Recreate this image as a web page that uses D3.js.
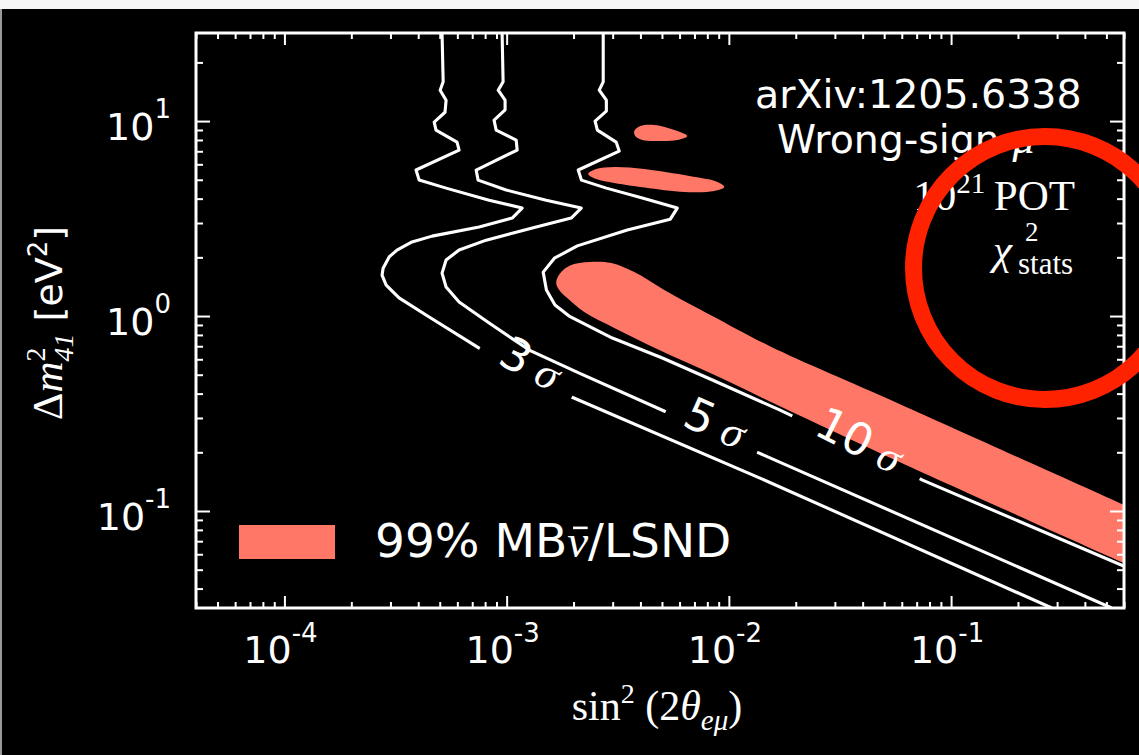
<!DOCTYPE html>
<html><head><meta charset="utf-8">
<script src="https://cdn.jsdelivr.net/npm/d3@7/dist/d3.min.js"></script>
<style>html,body{margin:0;padding:0;background:#000;overflow:hidden}svg{display:block}</style>
</head><body>
<svg id="chart" width="1139" height="755"></svg>
<script>
// ---------------- data ----------------
const xDomain = [4e-5, 0.6];
const yDomain = [0.0318, 28.3];
const xMajorTicks = [1e-4, 1e-3, 1e-2, 1e-1];
const xMajorExponents = ["-4", "-3", "-2", "-1"];
const yMajorTicks = [1e-1, 1e0, 1e1];
const yMajorExponents = ["-1", "0", "1"];

// contour lines [sin^2(2theta), dm^2]
const contour3sigma = [
  [5.12e-4,28.3],[5.18e-4,15.9],[5.02e-4,14.4],[5.34e-4,12.8],[5.28e-4,11.1],[4.72e-4,9.88],[4.81e-4,8.99],
  [5.98e-4,7.80],[6.11e-4,7.10],[3.91e-4,5.61],[4.04e-4,4.98],[5.34e-4,4.53],[8.34e-4,3.93],[1.174e-3,3.58],
  [1.059e-3,3.18],[7.52e-4,2.86],[4.62e-4,2.57],[3.75e-4,2.40],[3.21e-4,2.18],[2.96e-4,2.01],[2.78e-4,1.76],
  [2.75e-4,1.62],[2.87e-4,1.44],[3.28e-4,1.24],[4.48e-4,0.988],[7.52e-4,0.685],[1.199e-3,0.516],[1.912e-3,0.389],
  [1.372e-2,0.148],[0.284,0.0318]
];
const contour5sigma = [
  [9.54e-4,28.3],[9.64e-4,15.9],[9.16e-4,14.4],[9.84e-4,12.8],[9.84e-4,11.4],[8.78e-4,10.1],[8.97e-4,8.99],
  [1.104e-3,7.99],[1.115e-3,7.10],[7.29e-4,5.61],[7.44e-4,4.98],[9.95e-4,4.43],[1.506e-3,3.93],[2.166e-3,3.58],
  [1.952e-3,3.18],[1.358e-3,2.86],[8.09e-4,2.45],[6.11e-4,2.18],[5.34e-4,1.94],[5.12e-4,1.66],[5.34e-4,1.41],
  [6.11e-4,1.18],[8.34e-4,0.921],[1.263e-3,0.669],[2.122e-3,0.510],[5.23e-3,0.322],[8.34e-3,0.254],[1.33e-2,0.201],
  [0.528,0.0318]
];
const contour10sigma = [
  [2.72e-3,28.3],[2.72e-3,15.9],[2.61e-3,14.4],[2.81e-3,12.8],[2.81e-3,11.25],[2.50e-3,10.0],[2.56e-3,8.99],
  [3.11e-3,7.80],[3.21e-3,7.02],[2.10e-3,5.61],[2.17e-3,4.98],[2.81e-3,4.53],[4.08e-3,4.03],[5.86e-3,3.58],
  [5.45e-3,3.14],[3.49e-3,2.76],[2.08e-3,2.29],[1.64e-3,1.98],[1.46e-3,1.68],[1.51e-3,1.36],[1.65e-3,1.14],
  [1.91e-3,1.0],[2.99e-3,0.771],[5.02e-3,0.609],[8.43e-3,0.470],[1.69e-2,0.330],[3.79e-2,0.213],[7.44e-2,0.144],
  [0.598,0.0522]
];

// 99% MB anti-nu / LSND allowed regions
const mbLsndBand = [
  [1.671e-3,1.494],[1.760e-3,1.68],[1.952e-3,1.826],[2.353e-3,1.892],[2.956e-3,1.87],[3.752e-3,1.68],
  [5.12e-3,1.36],[8.43e-3,1.0],[1.522e-2,0.702],[5.86e-2,0.354],[0.6,0.1074],[0.75,0.0957],
  [0.75,0.0483],[0.6,0.0541],[5.86e-2,0.1784],[1.689e-2,0.3455],[8.43e-3,0.504],[4.86e-3,0.669],
  [3.05e-3,0.868],[2.234e-3,1.048],[1.873e-3,1.236],[1.724e-3,1.36]
];
const mbLsndIsland1 = [
  [3.752e-3,8.89],[3.994e-3,9.43],[4.62e-3,9.54],[5.51e-3,9.10],[6.50e-3,8.38],[5.86e-3,7.99],
  [4.86e-3,7.90],[4.077e-3,7.99],[3.79e-3,8.38]
];
const mbLsndIsland2 = [
  [2.329e-3,5.35],[2.530e-3,5.67],[3.05e-3,5.81],[4.164e-3,5.67],[6.64e-3,5.22],[8.88e-3,4.87],
  [9.54e-3,4.59],[8.60e-3,4.38],[6.64e-3,4.32],[4.385e-3,4.53],[3.05e-3,4.81],[2.530e-3,5.04]
];

// contour labels: value, position on curve, angle
const contourLabelValues = ["3", "5", "10"];
const contourLabelPositions = [[1.224e-3, 0.516], [8.34e-3, 0.254], [3.7e-2, 0.208]];
const contourLabelAngles = [28, 24, 27];
const contourLabelGaps = [104, 100, 142];

// ---------------- layout ----------------
const W = 1139, H = 755;
const plot = {left: 196, right: 1124, top: 33, bottom: 608};
const SALMON = "#ff7766";
const SANS = "DejaVu Sans";
const SERIF = "Liberation Serif";

const svg = d3.select("#chart");
svg.append("rect").attr("width", W).attr("height", H).attr("fill", "#000");
svg.append("rect").attr("x", 0).attr("y", 0).attr("width", W).attr("height", 9).attr("fill", "#f6f6f6");
svg.append("rect").attr("x", 0).attr("y", 9).attr("width", 2).attr("height", H - 9).attr("fill", "#9a9a9a");

const x = d3.scaleLog().domain(xDomain).range([plot.left, plot.right]);
const y = d3.scaleLog().domain(yDomain).range([plot.bottom, plot.top]);

const defs = svg.append("defs");
defs.append("clipPath").attr("id", "plotClip").append("rect")
  .attr("x", plot.left).attr("y", plot.top)
  .attr("width", plot.right - plot.left).attr("height", plot.bottom - plot.top);

const plotG = svg.append("g").attr("clip-path", "url(#plotClip)");

// regions
const areaLine = d3.line().x(d => x(d[0])).y(d => y(d[1])).curve(d3.curveCatmullRomClosed.alpha(0.5));
[mbLsndBand, mbLsndIsland1, mbLsndIsland2].forEach(r => {
  plotG.append("path").attr("d", areaLine(r)).attr("fill", SALMON);
});

// gap masks for inline labels
contourLabelPositions.forEach((p, i) => {
  const m = defs.append("mask").attr("id", "gap" + i).attr("maskUnits", "userSpaceOnUse")
    .attr("x", 0).attr("y", 0).attr("width", W).attr("height", H);
  m.append("rect").attr("width", W).attr("height", H).attr("fill", "white");
  m.append("rect").attr("x", -contourLabelGaps[i] / 2).attr("y", -12)
    .attr("width", contourLabelGaps[i]).attr("height", 24).attr("fill", "black")
    .attr("transform", `translate(${x(p[0])},${y(p[1])}) rotate(${contourLabelAngles[i]})`);
});

const contourLine = d3.line().x(d => x(d[0])).y(d => y(d[1])).curve(d3.curveLinear);
[contour3sigma, contour5sigma, contour10sigma].forEach((c, i) => {
  plotG.append("g").attr("mask", `url(#gap${i})`).append("path")
    .attr("d", contourLine(c)).attr("fill", "none").attr("stroke", "#fff")
    .attr("stroke-width", 3.1).attr("stroke-linejoin", "round");
});

// contour labels
contourLabelPositions.forEach((p, i) => {
  const t = svg.append("text")
    .attr("transform", `translate(${x(p[0])},${y(p[1])}) rotate(${contourLabelAngles[i]})`)
    .attr("text-anchor", "middle").attr("dy", "0.36em").attr("fill", "#fff");
  t.append("tspan").attr("font-family", SANS).attr("font-size", 45).text(contourLabelValues[i]);
  t.append("tspan").attr("font-family", SANS).attr("font-size", 36).text(" ");
  t.append("tspan").attr("font-family", SERIF).attr("font-style", "italic").attr("font-size", 44).text("σ");
});

// ---------------- axes ----------------
const isMajor = v => Math.abs(Math.log10(v) - Math.round(Math.log10(v))) < 1e-9;
const xMinor = x.ticks().filter(v => !isMajor(v));
const yMinor = y.ticks().filter(v => !isMajor(v));

function styleAxis(g) {
  g.select(".domain").remove();
  g.selectAll(".tick line").attr("stroke", "#fff").attr("stroke-width", 2);
  g.selectAll(".tick text").remove();
}
const axes = svg.append("g");
axes.append("g").attr("transform", `translate(0,${plot.bottom})`)
  .call(d3.axisBottom(x).tickValues(xMinor).tickSize(-6)).call(styleAxis);
axes.append("g").attr("transform", `translate(0,${plot.bottom})`)
  .call(d3.axisBottom(x).tickValues(xMajorTicks).tickSize(-12)).call(styleAxis);
axes.append("g").attr("transform", `translate(0,${plot.top})`)
  .call(d3.axisTop(x).tickValues(xMinor).tickSize(-6)).call(styleAxis);
axes.append("g").attr("transform", `translate(0,${plot.top})`)
  .call(d3.axisTop(x).tickValues(xMajorTicks).tickSize(-12)).call(styleAxis);
axes.append("g").attr("transform", `translate(${plot.left},0)`)
  .call(d3.axisLeft(y).tickValues(yMinor).tickSize(-7)).call(styleAxis);
axes.append("g").attr("transform", `translate(${plot.left},0)`)
  .call(d3.axisLeft(y).tickValues(yMajorTicks).tickSize(-14)).call(styleAxis);
axes.append("g").attr("transform", `translate(${plot.right},0)`)
  .call(d3.axisRight(y).tickValues(yMinor).tickSize(-7)).call(styleAxis);
axes.append("g").attr("transform", `translate(${plot.right},0)`)
  .call(d3.axisRight(y).tickValues(yMajorTicks).tickSize(-14)).call(styleAxis);

svg.append("rect").attr("x", plot.left).attr("y", plot.top)
  .attr("width", plot.right - plot.left).attr("height", plot.bottom - plot.top)
  .attr("fill", "none").attr("stroke", "#fff").attr("stroke-width", 3);

// tick labels
xMajorTicks.forEach((v, i) => {
  const t = svg.append("text").attr("x", x(v) - 4).attr("y", plot.bottom + 55)
    .attr("text-anchor", "middle").attr("font-family", SANS).attr("font-size", 38).attr("fill", "#fff");
  t.append("tspan").text("10");
  t.append("tspan").attr("dy", -21).attr("font-size", 26).text(xMajorExponents[i]);
});
yMajorTicks.forEach((v, i) => {
  const t = svg.append("text").attr("x", 171).attr("y", y(v) + 19)
    .attr("text-anchor", "end").attr("font-family", SANS).attr("font-size", 38).attr("fill", "#fff");
  t.append("tspan").text("10");
  t.append("tspan").attr("dy", -22).attr("font-size", 26).text(yMajorExponents[i]);
});

// axis titles
const xt = svg.append("text").attr("x", 657).attr("y", 720).attr("text-anchor", "middle")
  .attr("font-family", SERIF).attr("font-size", 42).attr("fill", "#fff");
xt.append("tspan").text("sin");
xt.append("tspan").attr("dy", -17).attr("font-size", 28).text("2");
xt.append("tspan").attr("dy", 17).text(" (2");
xt.append("tspan").attr("font-style", "italic").text("θ");
xt.append("tspan").attr("dy", 10).attr("font-size", 29).attr("font-style", "italic").text("eμ");
xt.append("tspan").attr("dy", -10).text(")");

const yt = svg.append("text").attr("transform", "translate(62,323) rotate(-90)")
  .attr("text-anchor", "middle").attr("fill", "#fff");
yt.append("tspan").attr("font-family", SERIF).attr("font-size", 43).text("Δ");
yt.append("tspan").attr("font-family", SERIF).attr("font-style", "italic").attr("font-size", 43).text("m");
yt.append("tspan").attr("font-family", SERIF).attr("font-size", 28).attr("dy", -17).text("2");
yt.append("tspan").attr("font-family", SERIF).attr("font-style", "italic").attr("font-size", 28).attr("dx", -14).attr("dy", 28).text("41");
yt.append("tspan").attr("font-family", SANS).attr("font-size", 38).attr("dy", -11).text(" [eV");
yt.append("tspan").attr("font-family", SANS).attr("font-size", 26).attr("dy", -15).text("2");
yt.append("tspan").attr("font-family", SANS).attr("font-size", 38).attr("dy", 15).text("]");

// legend
svg.append("rect").attr("x", 239).attr("y", 525).attr("width", 96).attr("height", 34).attr("fill", SALMON);
const lgSize = 47, lgBase = 557;
const lg = svg.append("text").attr("x", 375).attr("y", lgBase).attr("font-family", SANS)
  .attr("font-size", lgSize).attr("fill", "#fff");
lg.append("tspan").text("99% MB");
lg.append("tspan").attr("font-family", SERIF).attr("font-style", "italic").text("ν");
lg.append("tspan").text("/LSND");
// macron over the nu (anti-neutrino bar)
const nuBox = lg.node().getExtentOfChar(6);
svg.append("line")
  .attr("x1", nuBox.x + nuBox.width * 0.28).attr("x2", nuBox.x + nuBox.width * 0.98)
  .attr("y1", lgBase - lgSize * 0.62).attr("y2", lgBase - lgSize * 0.62)
  .attr("stroke", "#fff").attr("stroke-width", 2.6);

// annotations
svg.append("text").attr("x", 755).attr("y", 108).attr("font-family", SANS).attr("font-size", 39.5)
  .attr("fill", "#fff").text("arXiv:1205.6338");
const ws = svg.append("text").attr("x", 777).attr("y", 153).attr("font-family", SANS).attr("font-size", 39.5).attr("fill", "#fff");
ws.append("tspan").text("Wrong-sign ");
ws.append("tspan").attr("font-family", SERIF).attr("font-style", "italic").attr("font-size", 44).text("μ");
const pot = svg.append("text").attr("x", 1075).attr("y", 210).attr("text-anchor", "end")
  .attr("font-family", SERIF).attr("font-size", 43).attr("fill", "#fff");
pot.append("tspan").text("10");
pot.append("tspan").attr("dy", -17).attr("font-size", 29).text("21");
pot.append("tspan").attr("dy", 17).text("\u2009POT");
svg.append("text").attr("x", 993).attr("y", 264).attr("font-family", SERIF).attr("font-style", "italic")
  .attr("font-size", 43).attr("fill", "#fff").text("χ");
svg.append("text").attr("x", 1025).attr("y", 241).attr("font-family", SERIF)
  .attr("font-size", 27).attr("fill", "#fff").text("2");
svg.append("text").attr("x", 1018).attr("y", 274).attr("font-family", SERIF)
  .attr("font-size", 31).attr("fill", "#fff").text("stats");

// highlight circle
svg.append("circle").attr("cx", 1045).attr("cy", 268).attr("r", 131.5)
  .attr("fill", "none").attr("stroke", "#ff2200").attr("stroke-width", 17);
</script>
</body></html>
